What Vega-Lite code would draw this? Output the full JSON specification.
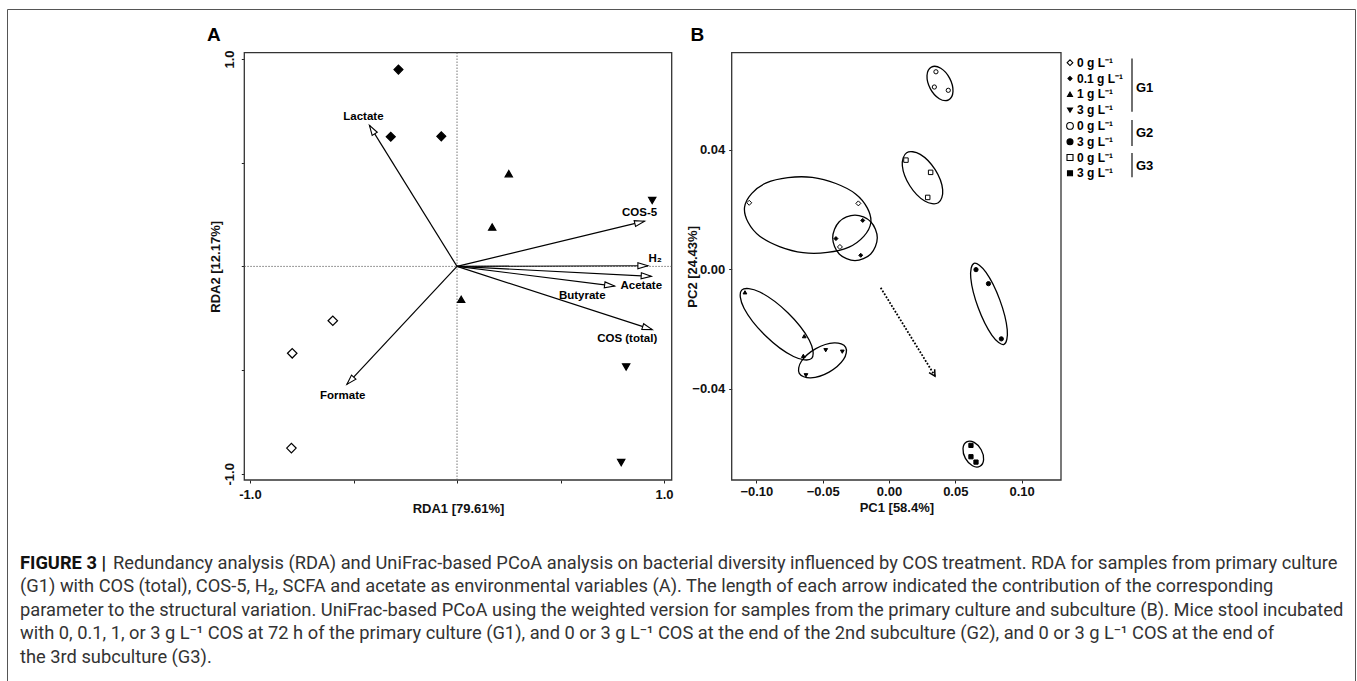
{
  "$schema": "https://vega.github.io/schema/vega-lite/v6.json",
  "width": 1348,
  "height": 672,
  "autosize": {"type": "none"},
  "padding": {"left": 7, "top": 9, "right": 2, "bottom": 0},
  "background": "white",
  "config": {
    "view": {"stroke": "#555", "strokeWidth": 1},
    "font": "Liberation Sans",
    "text": {"font": "Liberation Sans"},
    "axis": {"grid": false, "domain": false, "labelFont": "Liberation Sans", "labelFontWeight": "bold", "labelFontSize": 13, "labelColor": "#111", "titleFont": "Liberation Sans", "titleFontWeight": "bold", "titleFontSize": 13, "titleColor": "#111", "tickColor": "#222", "tickSize": 3, "labelOverlap": false, "labelFlush": false}
  },
  "datasets": {
    "boxA": [{"x1": -1.0275, "x2": 1.037, "y1": -1.03, "y2": 1.0304}],
    "zeroA": [{"x": 0, "y1": -1.03, "y2": 1.0304, "x1": -1.0275, "x2": 1.037, "y": 0}],
    "tagA": [{"t": "A", "x": -1.174, "y": 1.116}],
    "ptsA": [
      {"g": "G1 0.1", "x": -0.283, "y": 0.949}, {"g": "G1 0.1", "x": -0.320, "y": 0.625}, {"g": "G1 0.1", "x": -0.076, "y": 0.627},
      {"g": "G1 1", "x": 0.250, "y": 0.447}, {"g": "G1 1", "x": 0.170, "y": 0.190}, {"g": "G1 1", "x": 0.020, "y": -0.159},
      {"g": "G1 3", "x": 0.943, "y": 0.318}, {"g": "G1 3", "x": 0.817, "y": -0.485}, {"g": "G1 3", "x": 0.793, "y": -0.946},
      {"g": "G1 0", "x": -0.600, "y": -0.262}, {"g": "G1 0", "x": -0.796, "y": -0.419}, {"g": "G1 0", "x": -0.800, "y": -0.876}
    ],
    "arrowsA": [
      {"v": "Lactate", "ox": 0, "oy": 0, "x": -0.423, "y": 0.680, "lx": -0.452, "ly": 0.720},
      {"v": "COS-5", "ox": 0, "oy": 0, "x": 0.906, "y": 0.218, "lx": 0.882, "ly": 0.257},
      {"v": "H₂", "ox": 0, "oy": 0, "x": 0.922, "y": 0.003, "lx": 0.957, "ly": 0.034},
      {"v": "Acetate", "ox": 0, "oy": 0, "x": 0.938, "y": -0.048, "lx": 0.890, "ly": -0.095},
      {"v": "Butyrate", "ox": 0, "oy": 0, "x": 0.761, "y": -0.095, "lx": 0.605, "ly": -0.141},
      {"v": "COS (total)", "ox": 0, "oy": 0, "x": 0.943, "y": -0.305, "lx": 0.822, "ly": -0.348},
      {"v": "Formate", "ox": 0, "oy": 0, "x": -0.532, "y": -0.569, "lx": -0.552, "ly": -0.627}
    ],
    "boxB": [{"x1": -0.1186, "x2": 0.1297, "y1": -0.0706, "y2": 0.0726}],
    "tagB": [{"t": "B", "x": -0.1444, "y": 0.0785}],
    "ptsB": [
      {"g": "G1 0", "x": -0.1054, "y": 0.0223}, {"g": "G1 0", "x": -0.0231, "y": 0.0221}, {"g": "G1 0", "x": -0.0370, "y": 0.0075},
      {"g": "G1 0.1", "x": -0.0198, "y": 0.0164}, {"g": "G1 0.1", "x": -0.0400, "y": 0.0103}, {"g": "G1 0.1", "x": -0.0213, "y": 0.0047},
      {"g": "G1 1", "x": -0.1086, "y": -0.0077}, {"g": "G1 1", "x": -0.0639, "y": -0.0224}, {"g": "G1 1", "x": -0.0646, "y": -0.0290},
      {"g": "G1 3", "x": -0.0477, "y": -0.0271}, {"g": "G1 3", "x": -0.0352, "y": -0.0276}, {"g": "G1 3", "x": -0.0626, "y": -0.0355},
      {"g": "G2 0", "x": 0.0354, "y": 0.0662}, {"g": "G2 0", "x": 0.0342, "y": 0.0611}, {"g": "G2 0", "x": 0.0447, "y": 0.0600},
      {"g": "G2 3", "x": 0.0656, "y": -0.0001}, {"g": "G2 3", "x": 0.0750, "y": -0.0048}, {"g": "G2 3", "x": 0.0847, "y": -0.0233},
      {"g": "G3 0", "x": 0.0128, "y": 0.0366}, {"g": "G3 0", "x": 0.0314, "y": 0.0325}, {"g": "G3 0", "x": 0.0292, "y": 0.0241},
      {"g": "G3 3", "x": 0.0618, "y": -0.0590}, {"g": "G3 3", "x": 0.0618, "y": -0.0628}, {"g": "G3 3", "x": 0.0656, "y": -0.0646}
    ],
    "ell": [
      {"e": 1, "k": 0, "x": 0.04499, "y": 0.05681}, {"e": 1, "k": 1, "x": 0.03790, "y": 0.05719}, {"e": 1, "k": 2, "x": 0.03113, "y": 0.06056}, {"e": 1, "k": 3, "x": 0.02867, "y": 0.06494},
      {"e": 1, "k": 4, "x": 0.03193, "y": 0.06777}, {"e": 1, "k": 5, "x": 0.03903, "y": 0.06738}, {"e": 1, "k": 6, "x": 0.04579, "y": 0.06401}, {"e": 1, "k": 7, "x": 0.04826, "y": 0.05963},
      {"e": 2, "k": 0, "x": 0.03721, "y": 0.02232}, {"e": 2, "k": 1, "x": 0.02695, "y": 0.02288}, {"e": 2, "k": 2, "x": 0.01570, "y": 0.02802}, {"e": 2, "k": 3, "x": 0.01006, "y": 0.03473},
      {"e": 2, "k": 4, "x": 0.01332, "y": 0.03909}, {"e": 2, "k": 5, "x": 0.02357, "y": 0.03854}, {"e": 2, "k": 6, "x": 0.03483, "y": 0.03340}, {"e": 2, "k": 7, "x": 0.04047, "y": 0.02668},
      {"e": 3, "k": 0, "x": -0.01371, "y": 0.01561}, {"e": 3, "k": 1, "x": -0.03012, "y": 0.00745}, {"e": 3, "k": 2, "x": -0.06480, "y": 0.00559}, {"e": 3, "k": 3, "x": -0.09744, "y": 0.01112},
      {"e": 3, "k": 4, "x": -0.10891, "y": 0.02080}, {"e": 3, "k": 5, "x": -0.09250, "y": 0.02896}, {"e": 3, "k": 6, "x": -0.05783, "y": 0.03081}, {"e": 3, "k": 7, "x": -0.02519, "y": 0.02528},
      {"e": 4, "k": 0, "x": -0.00882, "y": 0.01056}, {"e": 4, "k": 1, "x": -0.01375, "y": 0.00516}, {"e": 4, "k": 2, "x": -0.02564, "y": 0.00292}, {"e": 4, "k": 3, "x": -0.03753, "y": 0.00516},
      {"e": 4, "k": 4, "x": -0.04246, "y": 0.01056}, {"e": 4, "k": 5, "x": -0.03753, "y": 0.01596}, {"e": 4, "k": 6, "x": -0.02564, "y": 0.01820}, {"e": 4, "k": 7, "x": -0.01375, "y": 0.01596},
      {"e": 5, "k": 0, "x": 0.08672, "y": -0.02515}, {"e": 5, "k": 1, "x": 0.07765, "y": -0.02212}, {"e": 5, "k": 2, "x": 0.06728, "y": -0.01290}, {"e": 5, "k": 3, "x": 0.06167, "y": -0.00291},
      {"e": 5, "k": 4, "x": 0.06411, "y": 0.00202}, {"e": 5, "k": 5, "x": 0.07317, "y": -0.00102}, {"e": 5, "k": 6, "x": 0.08355, "y": -0.01023}, {"e": 5, "k": 7, "x": 0.08916, "y": -0.02022},
      {"e": 6, "k": 0, "x": -0.05829, "y": -0.02985}, {"e": 6, "k": 1, "x": -0.07198, "y": -0.02921}, {"e": 6, "k": 2, "x": -0.09311, "y": -0.02225}, {"e": 6, "k": 3, "x": -0.10931, "y": -0.01303},
      {"e": 6, "k": 4, "x": -0.11109, "y": -0.00696}, {"e": 6, "k": 5, "x": -0.09740, "y": -0.00760}, {"e": 6, "k": 6, "x": -0.07627, "y": -0.01456}, {"e": 6, "k": 7, "x": -0.06007, "y": -0.02378},
      {"e": 7, "k": 0, "x": -0.03265, "y": -0.02614}, {"e": 7, "k": 1, "x": -0.03426, "y": -0.03021}, {"e": 7, "k": 2, "x": -0.04517, "y": -0.03445}, {"e": 7, "k": 3, "x": -0.05900, "y": -0.03638},
      {"e": 7, "k": 4, "x": -0.06765, "y": -0.03487}, {"e": 7, "k": 5, "x": -0.06604, "y": -0.03080}, {"e": 7, "k": 6, "x": -0.05513, "y": -0.02656}, {"e": 7, "k": 7, "x": -0.04130, "y": -0.02463},
      {"e": 8, "k": 0, "x": 0.06860, "y": -0.06600}, {"e": 8, "k": 1, "x": 0.06293, "y": -0.06583}, {"e": 8, "k": 2, "x": 0.05762, "y": -0.06337}, {"e": 8, "k": 3, "x": 0.05581, "y": -0.06005},
      {"e": 8, "k": 4, "x": 0.05854, "y": -0.05783}, {"e": 8, "k": 5, "x": 0.06422, "y": -0.05801}, {"e": 8, "k": 6, "x": 0.06952, "y": -0.06047}, {"e": 8, "k": 7, "x": 0.07134, "y": -0.06378}
    ],
    "arrB": [{"x": -0.00626, "y": -0.00617, "x2": 0.03469, "y2": -0.03577}],
    "leg": [
      {"r": 0, "g": "G1 0", "t": "0 g L⁻¹"}, {"r": 1, "g": "G1 0.1", "t": "0.1 g L⁻¹"}, {"r": 2, "g": "G1 1", "t": "1 g L⁻¹"}, {"r": 3, "g": "G1 3", "t": "3 g L⁻¹"},
      {"r": 4, "g": "G2 0", "t": "0 g L⁻¹"}, {"r": 5, "g": "G2 3", "t": "3 g L⁻¹"}, {"r": 6, "g": "G3 0", "t": "0 g L⁻¹"}, {"r": 7, "g": "G3 3", "t": "3 g L⁻¹"}
    ],
    "brk": [
      {"gl": "G1", "a": -0.27, "b": 3.1, "m": 1.6},
      {"gl": "G2", "a": 3.62, "b": 5.27, "m": 4.47},
      {"gl": "G3", "a": 5.71, "b": 7.25, "m": 6.52}
    ],
    "cap": [
      {"l": 0, "t": "Redundancy analysis (RDA) and UniFrac-based PCoA analysis on bacterial diversity influenced by COS treatment. RDA for samples from primary culture"},
      {"l": 1, "t": "(G1) with COS (total), COS-5, H₂, SCFA and acetate as environmental variables (A). The length of each arrow indicated the contribution of the corresponding"},
      {"l": 2, "t": "parameter to the structural variation. UniFrac-based PCoA using the weighted version for samples from the primary culture and subculture (B). Mice stool incubated"},
      {"l": 3, "t": "with 0, 0.1, 1, or 3 g L⁻¹ COS at 72 h of the primary culture (G1), and 0 or 3 g L⁻¹ COS at the end of the 2nd subculture (G2), and 0 or 3 g L⁻¹ COS at the end of"},
      {"l": 4, "t": "the 3rd subculture (G3)."}
    ],
    "capHead": [{"l": 0, "t": "FIGURE 3 |"}]
  },
  "layer": [
    {
      "layer": [
        {
          "data": {"name": "boxA"},
          "mark": {"type": "rect", "filled": false, "stroke": "#333", "strokeWidth": 1.3},
          "encoding": {
            "x": {"field": "x1", "type": "quantitative", "scale": {"domain": [-1.0275, 1.037], "range": [237.3, 664.7], "nice": false, "zero": false},
                  "axis": {"title": "RDA1 [79.61%]", "orient": "bottom", "offset": -201, "values": [-1, -0.5, 0, 0.5, 1], "labelExpr": "datum.value == 1 ? '1.0' : datum.value == -1 ? '-1.0' : ''", "labelPadding": 5, "titlePadding": 1}},
            "x2": {"field": "x2"},
            "y": {"field": "y1", "type": "quantitative", "scale": {"domain": [-1.03, 1.0304], "range": [471, 43.7], "nice": false, "zero": false},
                  "axis": {"title": "RDA2 [12.17%]", "orient": "left", "offset": -237.3, "values": [-1, -0.5, 0, 0.5, 1], "labelExpr": "datum.value == 1 ? '1.0' : datum.value == -1 ? '-1.0' : ''", "labelAngle": 270, "labelPadding": 5, "titlePadding": 1}},
            "y2": {"field": "y2"}
          }
        },
        {
          "data": {"name": "zeroA"},
          "mark": {"type": "rule", "stroke": "#555", "strokeWidth": 0.8, "strokeDash": [1.5, 1.5]},
          "encoding": {
            "x": {"field": "x", "type": "quantitative", "scale": {"domain": [-1.0275, 1.037], "range": [237.3, 664.7], "nice": false, "zero": false}},
            "y": {"field": "y1", "type": "quantitative", "scale": {"domain": [-1.03, 1.0304], "range": [471, 43.7], "nice": false, "zero": false}},
            "y2": {"field": "y2"}
          }
        },
        {
          "data": {"name": "zeroA"},
          "mark": {"type": "rule", "stroke": "#555", "strokeWidth": 0.8, "strokeDash": [1.5, 1.5]},
          "encoding": {
            "y": {"field": "y", "type": "quantitative", "scale": {"domain": [-1.03, 1.0304], "range": [471, 43.7], "nice": false, "zero": false}},
            "x": {"field": "x1", "type": "quantitative", "scale": {"domain": [-1.0275, 1.037], "range": [237.3, 664.7], "nice": false, "zero": false}},
            "x2": {"field": "x2"}
          }
        },
        {
          "data": {"name": "arrowsA"},
          "mark": {"type": "rule", "stroke": "black", "strokeWidth": 1.2},
          "encoding": {
            "x": {"field": "ox", "type": "quantitative", "scale": {"domain": [-1.0275, 1.037], "range": [237.3, 664.7], "nice": false, "zero": false}},
            "y": {"field": "oy", "type": "quantitative", "scale": {"domain": [-1.03, 1.0304], "range": [471, 43.7], "nice": false, "zero": false}},
            "x2": {"field": "x"},
            "y2": {"field": "y"}
          }
        },
        {
          "data": {"name": "arrowsA"},
          "transform": [{"calculate": "atan2(-datum.y, datum.x) * 180 / PI", "as": "ang"}],
          "mark": {"type": "point", "shape": "M0,0L-2,-0.6L-2,0.6Z", "filled": true, "fill": "white", "stroke": "black", "strokeWidth": 1.1, "size": 100, "opacity": 1},
          "encoding": {
            "x": {"field": "x", "type": "quantitative", "scale": {"domain": [-1.0275, 1.037], "range": [237.3, 664.7], "nice": false, "zero": false}},
            "y": {"field": "y", "type": "quantitative", "scale": {"domain": [-1.03, 1.0304], "range": [471, 43.7], "nice": false, "zero": false}},
            "angle": {"field": "ang", "type": "quantitative", "scale": null}
          }
        },
        {
          "data": {"name": "arrowsA"},
          "mark": {"type": "text", "fontWeight": "bold", "fontSize": 11.5, "color": "black"},
          "encoding": {
            "x": {"field": "lx", "type": "quantitative", "scale": {"domain": [-1.0275, 1.037], "range": [237.3, 664.7], "nice": false, "zero": false}},
            "y": {"field": "ly", "type": "quantitative", "scale": {"domain": [-1.03, 1.0304], "range": [471, 43.7], "nice": false, "zero": false}},
            "text": {"field": "v", "type": "nominal"}
          }
        },
        {
          "data": {"name": "ptsA"},
          "mark": {"type": "point", "filled": true, "stroke": "black", "strokeWidth": 1.2, "opacity": 1},
          "encoding": {
            "x": {"field": "x", "type": "quantitative", "scale": {"domain": [-1.0275, 1.037], "range": [237.3, 664.7], "nice": false, "zero": false}},
            "y": {"field": "y", "type": "quantitative", "scale": {"domain": [-1.03, 1.0304], "range": [471, 43.7], "nice": false, "zero": false}},
            "shape": {"field": "g", "type": "nominal", "scale": {"domain": ["G1 0", "G1 0.1", "G1 1", "G1 3"], "range": ["diamond", "diamond", "triangle-up", "triangle-down"]}, "legend": null},
            "fill": {"field": "g", "type": "nominal", "scale": {"domain": ["G1 0", "G1 0.1", "G1 1", "G1 3"], "range": ["white", "black", "black", "black"]}, "legend": null},
            "size": {"field": "g", "type": "nominal", "scale": {"type": "ordinal", "domain": ["G1 0", "G1 0.1", "G1 1", "G1 3"], "range": [90, 81, 53, 53]}, "legend": null}
          }
        },
        {
          "data": {"name": "tagA"},
          "mark": {"type": "text", "fontWeight": "bold", "fontSize": 19, "color": "black"},
          "encoding": {
            "x": {"field": "x", "type": "quantitative", "scale": {"domain": [-1.0275, 1.037], "range": [237.3, 664.7], "nice": false, "zero": false}},
            "y": {"field": "y", "type": "quantitative", "scale": {"domain": [-1.03, 1.0304], "range": [471, 43.7], "nice": false, "zero": false}},
            "text": {"field": "t", "type": "nominal"}
          }
        }
      ]
    },
    {
      "layer": [
        {
          "data": {"name": "boxB"},
          "mark": {"type": "rect", "filled": false, "stroke": "#333", "strokeWidth": 1.3},
          "encoding": {
            "x": {"field": "x1", "type": "quantitative", "scale": {"domain": [-0.1186, 0.1297], "range": [724.7, 1054], "nice": false, "zero": false},
                  "axis": {"title": "PC1 [58.4%]", "orient": "bottom", "offset": -201, "values": [-0.1, -0.05, 0, 0.05, 0.1], "format": ".2f", "labelPadding": 2, "titlePadding": 3}},
            "x2": {"field": "x2"},
            "y": {"field": "y1", "type": "quantitative", "scale": {"domain": [-0.0706, 0.0726], "range": [471, 43.7], "nice": false, "zero": false},
                  "axis": {"title": "PC2 [24.43%]", "orient": "left", "offset": -724.7, "values": [-0.04, 0, 0.04], "format": ".2f", "labelPadding": 4, "titlePadding": -8}},
            "y2": {"field": "y2"}
          }
        },
        {
          "data": {"name": "ell"},
          "mark": {"type": "line", "interpolate": "cardinal-closed", "color": "black", "strokeWidth": 1.3},
          "encoding": {
            "x": {"field": "x", "type": "quantitative", "scale": {"domain": [-0.1186, 0.1297], "range": [724.7, 1054], "nice": false, "zero": false}},
            "y": {"field": "y", "type": "quantitative", "scale": {"domain": [-0.0706, 0.0726], "range": [471, 43.7], "nice": false, "zero": false}},
            "detail": {"field": "e", "type": "nominal"},
            "order": {"field": "k", "type": "quantitative"}
          }
        },
        {
          "data": {"name": "arrB"},
          "mark": {"type": "rule", "stroke": "black", "strokeWidth": 1.8, "strokeDash": [1.8, 1.6]},
          "encoding": {
            "x": {"field": "x", "type": "quantitative", "scale": {"domain": [-0.1186, 0.1297], "range": [724.7, 1054], "nice": false, "zero": false}},
            "y": {"field": "y", "type": "quantitative", "scale": {"domain": [-0.0706, 0.0726], "range": [471, 43.7], "nice": false, "zero": false}},
            "x2": {"field": "x2"},
            "y2": {"field": "y2"}
          }
        },
        {
          "data": {"name": "arrB"},
          "mark": {"type": "point", "shape": "M-2,-1.1L0,0L-2,1.1", "filled": false, "stroke": "black", "strokeWidth": 1.5, "size": 36, "angle": 58.4, "opacity": 1},
          "encoding": {
            "x": {"field": "x2", "type": "quantitative", "scale": {"domain": [-0.1186, 0.1297], "range": [724.7, 1054], "nice": false, "zero": false}},
            "y": {"field": "y2", "type": "quantitative", "scale": {"domain": [-0.0706, 0.0726], "range": [471, 43.7], "nice": false, "zero": false}}
          }
        },
        {
          "data": {"name": "ptsB"},
          "mark": {"type": "point", "filled": true, "stroke": "black", "strokeWidth": 1, "opacity": 1},
          "encoding": {
            "x": {"field": "x", "type": "quantitative", "scale": {"domain": [-0.1186, 0.1297], "range": [724.7, 1054], "nice": false, "zero": false}},
            "y": {"field": "y", "type": "quantitative", "scale": {"domain": [-0.0706, 0.0726], "range": [471, 43.7], "nice": false, "zero": false}},
            "shape": {"field": "g", "type": "nominal", "scale": {"domain": ["G1 0", "G1 0.1", "G1 1", "G1 3", "G2 0", "G2 3", "G3 0", "G3 3"], "range": ["diamond", "diamond", "triangle-up", "triangle-down", "circle", "circle", "square", "square"]}, "legend": null},
            "fill": {"field": "g", "type": "nominal", "scale": {"domain": ["G1 0", "G1 0.1", "G1 1", "G1 3", "G2 0", "G2 3", "G3 0", "G3 3"], "range": ["white", "black", "black", "black", "white", "black", "white", "black"]}, "legend": null},
            "size": {"field": "g", "type": "nominal", "scale": {"type": "ordinal", "domain": ["G1 0", "G1 0.1", "G1 1", "G1 3", "G2 0", "G2 3", "G3 0", "G3 3"], "range": [25, 16, 14, 14, 18, 18, 20, 18]}, "legend": null}
          }
        },
        {
          "data": {"name": "tagB"},
          "mark": {"type": "text", "fontWeight": "bold", "fontSize": 19, "color": "black"},
          "encoding": {
            "x": {"field": "x", "type": "quantitative", "scale": {"domain": [-0.1186, 0.1297], "range": [724.7, 1054], "nice": false, "zero": false}},
            "y": {"field": "y", "type": "quantitative", "scale": {"domain": [-0.0706, 0.0726], "range": [471, 43.7], "nice": false, "zero": false}},
            "text": {"field": "t", "type": "nominal"}
          }
        }
      ]
    },
    {
      "layer": [
        {
          "data": {"name": "leg"},
          "mark": {"type": "point", "filled": true, "stroke": "black", "strokeWidth": 1.1, "opacity": 1},
          "encoding": {
            "x": {"value": 1063},
            "y": {"field": "r", "type": "quantitative", "scale": {"domain": [0, 7], "range": [53.7, 164.3], "nice": false, "zero": false}, "axis": null},
            "shape": {"field": "g", "type": "nominal", "scale": {"domain": ["G1 0", "G1 0.1", "G1 1", "G1 3", "G2 0", "G2 3", "G3 0", "G3 3"], "range": ["diamond", "diamond", "triangle-up", "triangle-down", "circle", "circle", "square", "square"]}, "legend": null},
            "fill": {"field": "g", "type": "nominal", "scale": {"domain": ["G1 0", "G1 0.1", "G1 1", "G1 3", "G2 0", "G2 3", "G3 0", "G3 3"], "range": ["white", "black", "black", "black", "white", "black", "white", "black"]}, "legend": null},
            "size": {"field": "g", "type": "nominal", "scale": {"type": "ordinal", "domain": ["G1 0", "G1 0.1", "G1 1", "G1 3", "G2 0", "G2 3", "G3 0", "G3 3"], "range": [32, 16, 25, 25, 45, 36, 36, 25]}, "legend": null}
          }
        },
        {
          "data": {"name": "leg"},
          "mark": {"type": "text", "align": "left", "baseline": "middle", "fontWeight": "bold", "fontSize": 12, "color": "black"},
          "encoding": {
            "x": {"value": 1070},
            "y": {"field": "r", "type": "quantitative", "scale": {"domain": [0, 7], "range": [53.7, 164.3], "nice": false, "zero": false}, "axis": null},
            "text": {"field": "t", "type": "nominal"}
          }
        },
        {
          "data": {"name": "brk"},
          "mark": {"type": "rule", "stroke": "#222", "strokeWidth": 1.3},
          "encoding": {
            "x": {"value": 1125},
            "y": {"field": "a", "type": "quantitative", "scale": {"domain": [0, 7], "range": [53.7, 164.3], "nice": false, "zero": false}, "axis": null},
            "y2": {"field": "b"}
          }
        },
        {
          "data": {"name": "brk"},
          "mark": {"type": "text", "align": "left", "baseline": "middle", "fontWeight": "bold", "fontSize": 13, "color": "black"},
          "encoding": {
            "x": {"value": 1129},
            "y": {"field": "m", "type": "quantitative", "scale": {"domain": [0, 7], "range": [53.7, 164.3], "nice": false, "zero": false}, "axis": null},
            "text": {"field": "gl", "type": "nominal"}
          }
        }
      ]
    },
    {
      "layer": [
        {
          "data": {"name": "cap"},
          "transform": [{"filter": "datum.l > 0"}],
          "mark": {"type": "text", "align": "left", "baseline": "alphabetic", "font": "Roboto", "fontSize": 18.3, "color": "#333"},
          "encoding": {
            "x": {"value": 13},
            "y": {"field": "l", "type": "quantitative", "scale": {"domain": [0, 4], "range": [559.5, 653.5], "nice": false, "zero": false}, "axis": null},
            "text": {"field": "t", "type": "nominal"}
          }
        },
        {
          "data": {"name": "cap"},
          "transform": [{"filter": "datum.l == 0"}],
          "mark": {"type": "text", "align": "left", "baseline": "alphabetic", "font": "Roboto", "fontSize": 18.3, "color": "#333", "dx": 93},
          "encoding": {
            "x": {"value": 13},
            "y": {"field": "l", "type": "quantitative", "scale": {"domain": [0, 4], "range": [559.5, 653.5], "nice": false, "zero": false}, "axis": null},
            "text": {"field": "t", "type": "nominal"}
          }
        },
        {
          "data": {"name": "capHead"},
          "mark": {"type": "text", "align": "left", "baseline": "alphabetic", "font": "Roboto", "fontWeight": "bold", "fontSize": 18.3, "color": "#111"},
          "encoding": {
            "x": {"value": 13},
            "y": {"field": "l", "type": "quantitative", "scale": {"domain": [0, 4], "range": [559.5, 653.5], "nice": false, "zero": false}, "axis": null},
            "text": {"field": "t", "type": "nominal"}
          }
        }
      ]
    }
  ],
  "resolve": {
    "scale": {"x": "independent", "y": "independent", "shape": "independent", "fill": "independent", "size": "independent"},
    "axis": {"x": "independent", "y": "independent"}
  }
}
